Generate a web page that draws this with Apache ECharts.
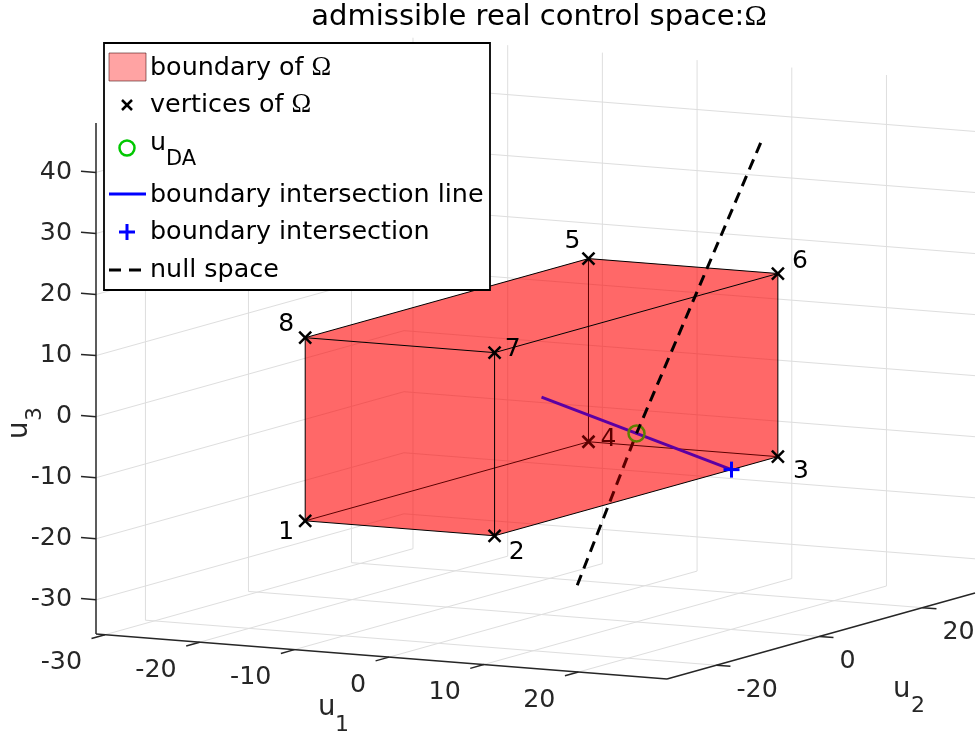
<!DOCTYPE html>
<html>
<head>
<meta charset="utf-8">
<script src="https://cdn.jsdelivr.net/npm/echarts@6/dist/echarts.min.js"></script>
<style>html,body{margin:0;padding:0;background:#fff}#c{width:978px;height:735px}</style>
</head>
<body>
<div id="c"></div>
<script>
// ---------------- data ----------------
const u1Ticks = [-30, -20, -10, 0, 10, 20];
const u2Ticks = [-20, 0, 20];
const u3Ticks = [-30, -20, -10, 0, 10, 20, 30, 40];
const u1Lim = [-30.95, 29.35];
const u2Lim = [-29.6, 30.2];
const u3Lim = [-35.6, 48.1];

const vertexU1 = [-10, 10, 10, -10, -10, 10, 10, -10];
const vertexU2 = [-27.5, -27.5, 27.5, 27.5, 27.5, 27.5, -27.5, -27.5];
const vertexU3 = [-15, -15, -15, -15, 15, 15, 15, 15];
const vertexNames = ['1', '2', '3', '4', '5', '6', '7', '8'];
const faces = [[0, 1, 2, 3], [4, 5, 6, 7], [0, 1, 6, 7], [1, 2, 5, 6], [2, 3, 4, 5], [3, 0, 7, 4]];
const edges = [[0, 1], [1, 2], [2, 3], [3, 0], [4, 5], [5, 6], [6, 7], [7, 4], [0, 7], [1, 6], [2, 5], [3, 4]];

const uDA = [5, 9.25, -7.5];
const intersectionLineStart = [0, 0, 0];
const boundaryIntersection = [10, 18.5, -15];
const nullSpaceStart = [3.5, 0.5, -30.5];
const nullSpaceEnd = [8.5, 27, 36.5];

// ---------------- view / layout (styles) ----------------
const backFaces = [0, 4, 5];
const frontFaces = [1, 2, 3];
const hiddenVertex = 3;
const labelOffsets = [[-19, 12], [22, 17], [23, 15], [20, -2], [-16, -17], [22, -12], [18, -3], [-19, -13]];

const boxLeftBottom = [96, 634];   // (u1min,u2min,u3min)
const boxFrontBottom = [667, 679]; // (u1max,u2min,u3min)
const boxRightBottom = [975, 593]; // (u1max,u2max,u3min)
const boxLeftTop = [96, 123];      // (u1min,u2min,u3max)

const r1 = u1Lim[1] - u1Lim[0], r2 = u2Lim[1] - u2Lim[0], r3 = u3Lim[1] - u3Lim[0];
const e1 = [(boxFrontBottom[0] - boxLeftBottom[0]) / r1, (boxFrontBottom[1] - boxLeftBottom[1]) / r1];
const e2 = [(boxRightBottom[0] - boxFrontBottom[0]) / r2, (boxRightBottom[1] - boxFrontBottom[1]) / r2];
const e3 = [(boxLeftTop[0] - boxLeftBottom[0]) / r3, (boxLeftTop[1] - boxLeftBottom[1]) / r3];

function project(p) {
  const a = p[0] - u1Lim[0], b = p[1] - u2Lim[0], c = p[2] - u3Lim[0];
  return [boxLeftBottom[0] + a * e1[0] + b * e2[0] + c * e3[0],
          boxLeftBottom[1] + a * e1[1] + b * e2[1] + c * e3[1]];
}
const vertex = i => [vertexU1[i], vertexU2[i], vertexU3[i]];

const FONT = '"DejaVu Sans", sans-serif';
const SERIF = '"Liberation Serif", "DejaVu Serif", serif';
const TICK = '#262626';
const GRIDC = '#dedede';
const FACE = 'rgba(255,0,0,0.36)';
const GREEN = 'rgb(0,200,0)';
const BLUE = '#0000ff';

const seg = (a, b, stroke, lineWidth, extra) => ({
  type: 'line', shape: { x1: a[0], y1: a[1], x2: b[0], y2: b[1] },
  style: Object.assign({ stroke, lineWidth, lineCap: 'butt' }, extra || {})
});
const txt = (x, y, text, opt) => ({
  type: 'text', x, y,
  style: Object.assign({ text, fill: '#000', fontSize: 25, fontFamily: FONT, align: 'center', verticalAlign: 'middle' }, opt || {})
});
const xMark = (c, h, color, w) => [seg([c[0] - h, c[1] - h], [c[0] + h, c[1] + h], color, w), seg([c[0] - h, c[1] + h], [c[0] + h, c[1] - h], color, w)];
const plusMark = (c, h, color, w) => [seg([c[0] - h, c[1]], [c[0] + h, c[1]], color, w), seg([c[0], c[1] - h], [c[0], c[1] + h], color, w)];

function layer(z, build) {
  return {
    type: 'custom', z, silent: true, clip: false, coordinateSystem: 'cartesian2d',
    data: [[0, 0]],
    renderItem: (params, api) => ({ type: 'group', children: build(p => api.coord(project(p))) })
  };
}

// grid lines on back planes
const gridLayer = layer(1, P => {
  const out = [];
  const g = (a, b) => out.push(seg(P(a), P(b), GRIDC, 1));
  u1Ticks.forEach(t => { g([t, u2Lim[0], u3Lim[0]], [t, u2Lim[1], u3Lim[0]]); g([t, u2Lim[1], u3Lim[0]], [t, u2Lim[1], u3Lim[1]]); });
  u2Ticks.forEach(t => { g([u1Lim[0], t, u3Lim[0]], [u1Lim[1], t, u3Lim[0]]); g([u1Lim[0], t, u3Lim[0]], [u1Lim[0], t, u3Lim[1]]); });
  u3Ticks.forEach(t => { g([u1Lim[0], u2Lim[0], t], [u1Lim[0], u2Lim[1], t]); g([u1Lim[0], u2Lim[1], t], [u1Lim[1], u2Lim[1], t]); });
  return out;
});

// axes, ticks, tick labels, axis titles
const axisLayer = layer(2, P => {
  const out = [];
  const lw = 1.5;
  out.push(seg(P([u1Lim[0], u2Lim[0], u3Lim[0]]), P([u1Lim[0], u2Lim[0], u3Lim[1]]), TICK, lw));
  out.push(seg(P([u1Lim[0], u2Lim[0], u3Lim[0]]), P([u1Lim[1], u2Lim[0], u3Lim[0]]), TICK, lw));
  out.push(seg(P([u1Lim[1], u2Lim[0], u3Lim[0]]), P([u1Lim[1], u2Lim[1], u3Lim[0]]), TICK, lw));
  u3Ticks.forEach(t => {
    const p = P([u1Lim[0], u2Lim[0], t]);
    out.push(seg(p, [p[0] - 15, p[1] - 1.2], TICK, lw));
    out.push(txt(p[0] - 24, p[1], String(t), { fill: TICK, align: 'right', fontSize: 25.3 }));
  });
  u1Ticks.forEach(t => {
    const p = P([t, u2Lim[0], u3Lim[0]]);
    out.push(seg(p, [p[0] - 13.5, p[1] + 3.8], TICK, lw));
    out.push(txt(p[0] - 23, p[1] + 28, String(t), { fill: TICK, align: 'right', fontSize: 25.3 }));
  });
  u2Ticks.forEach(t => {
    const p = P([u1Lim[1], t, u3Lim[0]]);
    out.push(seg(p, [p[0] + 14, p[1] + 1.1], TICK, lw));
    out.push(txt(p[0] + 20, p[1] + 25, String(t), { fill: TICK, align: 'left', fontSize: 25.3 }));
  });
  // axis titles
  out.push(txt(318, 708, 'u', { fill: TICK, fontSize: 27.5, align: 'left' }));
  out.push(txt(335, 725, '1', { fill: TICK, fontSize: 22, align: 'left' }));
  out.push(txt(893, 690, 'u', { fill: TICK, fontSize: 27.5, align: 'left' }));
  out.push(txt(911, 706, '2', { fill: TICK, fontSize: 22, align: 'left' }));
  const u3a = txt(20, 439, 'u', { fill: TICK, fontSize: 27.5, align: 'left' }); u3a.rotation = Math.PI / 2;
  const u3b = txt(35, 421, '3', { fill: TICK, fontSize: 22, align: 'left' }); u3b.rotation = Math.PI / 2;
  out.push(u3a, u3b);
  return out;
});

const facePolys = (P, list) => list.map(fi => ({
  type: 'polygon', shape: { points: faces[fi].map(i => P(vertex(i))) }, style: { fill: FACE }
}));
const backFaceLayer = layer(3, P => facePolys(P, backFaces));
const frontFaceLayer = layer(5, P => facePolys(P, frontFaces));

const dash = [11, 7];
const hiddenLayer = layer(4, P => {
  const out = [];
  edges.filter(e => e.includes(hiddenVertex)).forEach(e => out.push(seg(P(vertex(e[0])), P(vertex(e[1])), '#000', 1)));
  const a = P(nullSpaceStart), m = P(uDA);
  out.push(seg(a, m, '#000', 3, { lineDash: dash }));
  out.push(seg(P(intersectionLineStart), P(boundaryIntersection), BLUE, 3));
  out.push({ type: 'circle', shape: { cx: m[0], cy: m[1], r: 8 }, style: { fill: 'none', stroke: GREEN, lineWidth: 2.5 } });
  const v = P(vertex(hiddenVertex));
  out.push(...xMark(v, 6, '#000', 2.5));
  out.push(txt(v[0] + labelOffsets[hiddenVertex][0], v[1] + labelOffsets[hiddenVertex][1], vertexNames[hiddenVertex]));
  return out;
});

const frontLayer = layer(6, P => {
  const out = [];
  edges.filter(e => !e.includes(hiddenVertex)).forEach(e => out.push(seg(P(vertex(e[0])), P(vertex(e[1])), '#000', 1)));
  const a = P(nullSpaceStart), m = P(uDA), b = P(nullSpaceEnd);
  const lowerLen = Math.hypot(m[0] - a[0], m[1] - a[1]);
  out.push(seg(m, b, '#000', 3, { lineDash: dash, lineDashOffset: lowerLen }));
  vertexNames.forEach((name, i) => {
    if (i === hiddenVertex) return;
    const v = P(vertex(i));
    out.push(...xMark(v, 6, '#000', 2.5));
    out.push(txt(v[0] + labelOffsets[i][0], v[1] + labelOffsets[i][1], name));
  });
  out.push(...plusMark(P(boundaryIntersection), 8, BLUE, 3));
  return out;
});

// ---------------- legend + title (graphic) ----------------
const LF = 25.4;
const gl = (x1, y1, x2, y2, stroke, lineWidth, extra) => ({ type: 'line', shape: { x1, y1, x2, y2 }, style: Object.assign({ stroke, lineWidth }, extra || {}) });
const gt = (x, y, text, opt) => ({ type: 'text', x, y, style: Object.assign({ text, fill: '#000', fontSize: LF, fontFamily: FONT, align: 'left', verticalAlign: 'middle' }, opt || {}) });
const omegaRich = { t: { fontSize: LF, fontFamily: FONT, fill: '#000', color: '#000' }, o: { fontSize: 26.5, fontFamily: SERIF, fill: '#000', color: '#000' } };
const legendEls = [
  { type: 'rect', shape: { x: 104, y: 43, width: 386, height: 247 }, style: { fill: '#fff', stroke: '#000', lineWidth: 1.8 } },
  { type: 'rect', shape: { x: 109, y: 53, width: 37, height: 28 }, style: { fill: FACE, stroke: 'rgba(60,0,0,0.55)', lineWidth: 1 } },
  gt(150, 68, '{t|boundary of }{o|Ω}', { rich: omegaRich }),
  gl(122, 100, 132, 110, '#000', 2.5), gl(122, 110, 132, 100, '#000', 2.5),
  gt(150, 105, '{t|vertices of }{o|Ω}', { rich: omegaRich }),
  { type: 'circle', shape: { cx: 127, cy: 148, r: 7.5 }, style: { fill: 'none', stroke: GREEN, lineWidth: 2.5 } },
  gt(150, 143, 'u'),
  gt(166, 160, 'DA', { fontSize: 21 }),
  gl(109, 194, 146, 194, BLUE, 3),
  gt(150, 195, 'boundary intersection line'),
  gl(119, 232, 135, 232, BLUE, 3), gl(127, 224, 127, 240, BLUE, 3),
  gt(150, 232, 'boundary intersection'),
  gl(109, 270, 146, 270, '#000', 3, { lineDash: [12, 8] }),
  gt(150, 270, 'null space'),
  {
    type: 'text', x: 539, y: 17,
    style: {
      text: '{a|admissible real control space:}{o|Ω}', align: 'center', verticalAlign: 'middle',
      rich: { a: { fontSize: 29, fontFamily: FONT, fill: '#000', color: '#000' }, o: { fontSize: 30, fontFamily: SERIF, fill: '#000', color: '#000' } }
    }
  }
];

const chart = echarts.init(document.getElementById('c'), null, { renderer: 'canvas', width: 978, height: 735 });
chart.setOption({
  animation: false,
  backgroundColor: '#fff',
  grid: { left: 0, right: 0, top: 0, bottom: 0, containLabel: false },
  xAxis: { type: 'value', min: 0, max: 978, show: false },
  yAxis: { type: 'value', min: 0, max: 735, inverse: true, show: false },
  series: [gridLayer, axisLayer, backFaceLayer, hiddenLayer, frontFaceLayer, frontLayer],
  graphic: { elements: legendEls.map(e => Object.assign({ z: 100 }, e)) }
});
</script>
</body>
</html>
